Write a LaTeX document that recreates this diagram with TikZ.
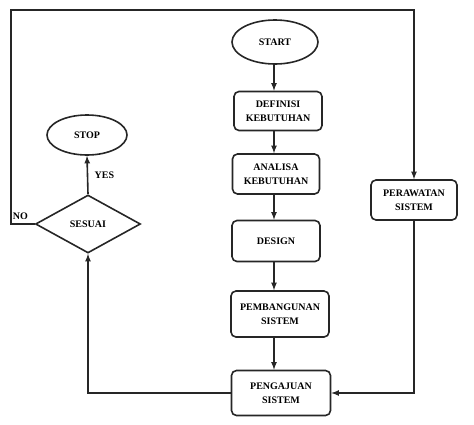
\documentclass[tikz,border=0pt]{standalone}
\usepackage{fontspec}
\setmainfont{Liberation Serif}
\usetikzlibrary{arrows,shapes.geometric,positioning}

\begin{document}
\begin{tikzpicture}[x=1pt,y=-1pt,align=center,font=\fontsize{10}{14}\selectfont\bfseries]
\tikzstyle{term}=[ellipse,draw=black!85,line width=1.6pt,inner sep=0pt]
\tikzstyle{proc}=[rectangle,rounded corners=5pt,draw=black!85,line width=1.6pt,inner sep=0pt]
\tikzstyle{cond}=[diamond,draw=black!85,line width=1.6pt,inner sep=0pt]
\tikzstyle{flow}=[->,>=latex,line width=1.6pt,draw=black!85]

\useasboundingbox (0,0) rectangle (474,424);

\node[term,minimum width=86pt,minimum height=44pt] (start) at (275,42) {START};
\node[proc,minimum width=88pt,minimum height=39pt] (def) at (278,111) {DEFINISI\\KEBUTUHAN};
\node[proc,minimum width=87pt,minimum height=40pt] (ana) at (276,174) {ANALISA\\KEBUTUHAN};
\node[proc,minimum width=88pt,minimum height=41pt] (des) at (276,241) {DESIGN};
\node[proc,minimum width=98pt,minimum height=46pt] (pem) at (280,314) {PEMBANGUNAN\\SISTEM};
\node[proc,minimum width=99pt,minimum height=45pt] (peng) at (281,393) {PENGAJUAN\\SISTEM};
\node[proc,minimum width=86pt,minimum height=40pt] (per) at (414,200) {PERAWATAN\\SISTEM};
\node[term,minimum width=80pt,minimum height=40pt] (stop) at (87,135) {STOP};
\node[cond,minimum width=105pt,minimum height=58pt] (sesuai) at (88,224) {SESUAI};
\coordinate (loop) at (11,10);

\draw[flow] (start.south -| 274,0) -- (def.north -| 274,0);
\draw[flow] (def.south -| 274,0) -- (ana.north -| 274,0);
\draw[flow] (ana.south -| 274,0) -- (des.north -| 274,0);
\draw[flow] (des.south -| 274,0) -- (pem.north -| 274,0);
\draw[flow] (pem.south -| 274,0) -- (peng.north -| 274,0);
\draw[flow] (sesuai.north) -- node[right=3pt] {YES} (stop.south);
\draw[flow] (sesuai.west) -- node[above,pos=0.6] {NO} (sesuai.west -| loop) -- (loop) -| (per.north);
\draw[flow] (per.south) |- (peng.east);
\draw[flow] (peng.west) -| (sesuai.south);
\end{tikzpicture}
\end{document}
